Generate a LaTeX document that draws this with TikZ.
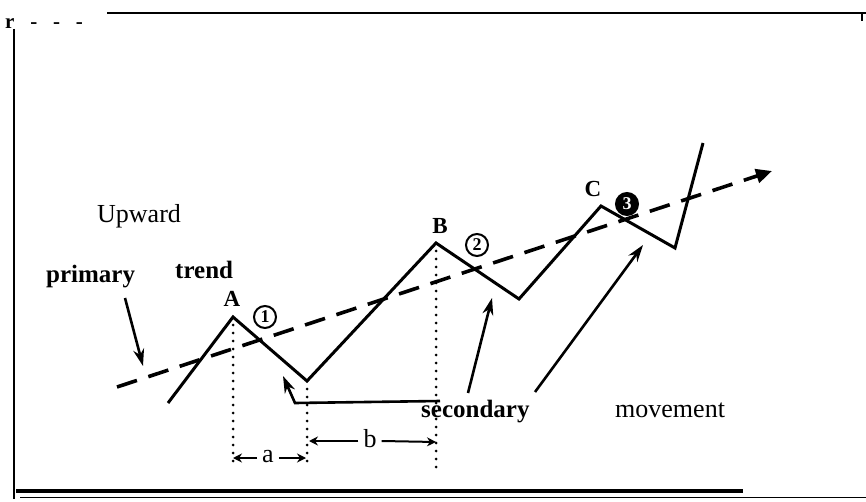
\documentclass[tikz,border=0pt]{standalone}
\usepackage{fontspec}
\setmainfont{Liberation Serif}
\usetikzlibrary{arrows.meta,positioning,calc}

\begin{document}
\begin{tikzpicture}[x=1pt,y=-1pt,
    wave/.style={line width=3pt, line join=miter},
    trendline/.style={line width=3.6pt, dash pattern=on 21pt off 12pt, -{Triangle[length=16pt,width=14pt]}},
    pointer/.style={line width=2.6pt, -{Stealth[length=17pt,width=11pt]}},
    dimline/.style={line width=2pt, -{Stealth[length=9pt,width=9pt]}},
    guide/.style={line width=3pt, dash pattern=on 0pt off 8pt, line cap=round},
    lbl/.style={font=\fontsize{26}{28}\selectfont, inner sep=0pt},
    blbl/.style={font=\bfseries\fontsize{25}{27}\selectfont, inner sep=0pt},
    peak/.style={font=\bfseries\fontsize{23}{25}\selectfont, inner sep=0pt},
    ring/.style={circle, draw, line width=2pt, inner sep=0pt, minimum size=22pt, font=\bfseries\fontsize{18}{18}\selectfont}]
    \useasboundingbox (0,0) rectangle (866,502);

    % frame
    \node [font=\bfseries\fontsize{21}{21}\selectfont, inner sep=0pt, anchor=base west] (corner) at (5,29) {r\ \ \ -\ \ \ -\ \ \ -};
    \draw [line width=2.8pt] (107,13) -- (866,13);
    \draw [line width=2.4pt] (862,14) -- (862,21);
    \draw [line width=2pt] (14,29) -- (14,499);
    \draw [line width=3.4pt] (16,491) -- (743,491);
    \draw [line width=1.4pt] (20,497.5) -- (866,497.5);

    % price path
    \coordinate (s0) at (168,403);
    \coordinate (pa) at (233,317);
    \coordinate (t1) at (307,381);
    \coordinate (pb) at (436,243);
    \coordinate (t2) at (519,299);
    \coordinate (pc) at (601,206);
    \coordinate (t3) at (675,248);
    \coordinate (s1) at (703,143);
    \draw [wave] (s0) -- (pa) -- (t1) -- (pb) -- (t2) -- (pc) -- (t3) -- (s1);

    % primary trend line
    \coordinate (d0) at (117,387);
    \coordinate (d1) at (772,171);
    \draw [trendline] (d0) -- (d1);

    % labels
    \node [lbl, anchor=base west] (upward) at (97,223) {Upward};
    \node [blbl, anchor=base west] (primary) at (46,282) {primary};
    \node [blbl, anchor=base west] (trend) at (175,279) {trend};
    \node [peak] (la) at (232,299) {A};
    \node [peak] (lb) at (440,226) {B};
    \node [peak] (lc) at (593,189) {C};
    \node [ring] (c1) at (265,317) {1};
    \node [ring] (c2) at (477,245) {2};
    \node [ring, fill=black, text=white] (c3) at (627,204) {3};
    \node [blbl, anchor=base west] (secondary) at (421,417) {secondary};
    \node [lbl, anchor=base west] (movement) at (615,417) {movement};

    % pointers
    \coordinate (p0) at (125,298);
    \coordinate (p1) at (143,366);
    \draw [pointer] (p0) -- (p1);
    \coordinate (h0) at (440,401);
    \coordinate (h1) at (295,403);
    \coordinate (h2) at (283,376);
    \draw [pointer] (h0) -- (h1) -- (h2);
    \coordinate (q0) at (468,393);
    \coordinate (q1) at (492,298);
    \draw [pointer] (q0) -- (q1);
    \coordinate (r0) at (535,392);
    \coordinate (r1) at (643,245);
    \draw [pointer] (r0) -- (r1);

    % guides and spacings
    \coordinate (ga) at (233,468);
    \coordinate (gt) at (307,468);
    \coordinate (gb) at (436,471);
    \draw [guide] (pa) -- (ga);
    \draw [guide] (t1) -- (gt);
    \draw [guide] (pb) -- (gb);
    \node [lbl] (na) at (268,457) {a};
    \node [lbl] (nb) at (370,439) {b};
    \draw [dimline] (na.west) ++(-5,1) -- (233,458);
    \draw [dimline] (na.east) ++(5,1) -- (306,458);
    \draw [dimline] (nb.west) ++(-5,2) -- (309,441);
    \draw [dimline] (nb.east) ++(5,2) -- (436,442);
\end{tikzpicture}
\end{document}
